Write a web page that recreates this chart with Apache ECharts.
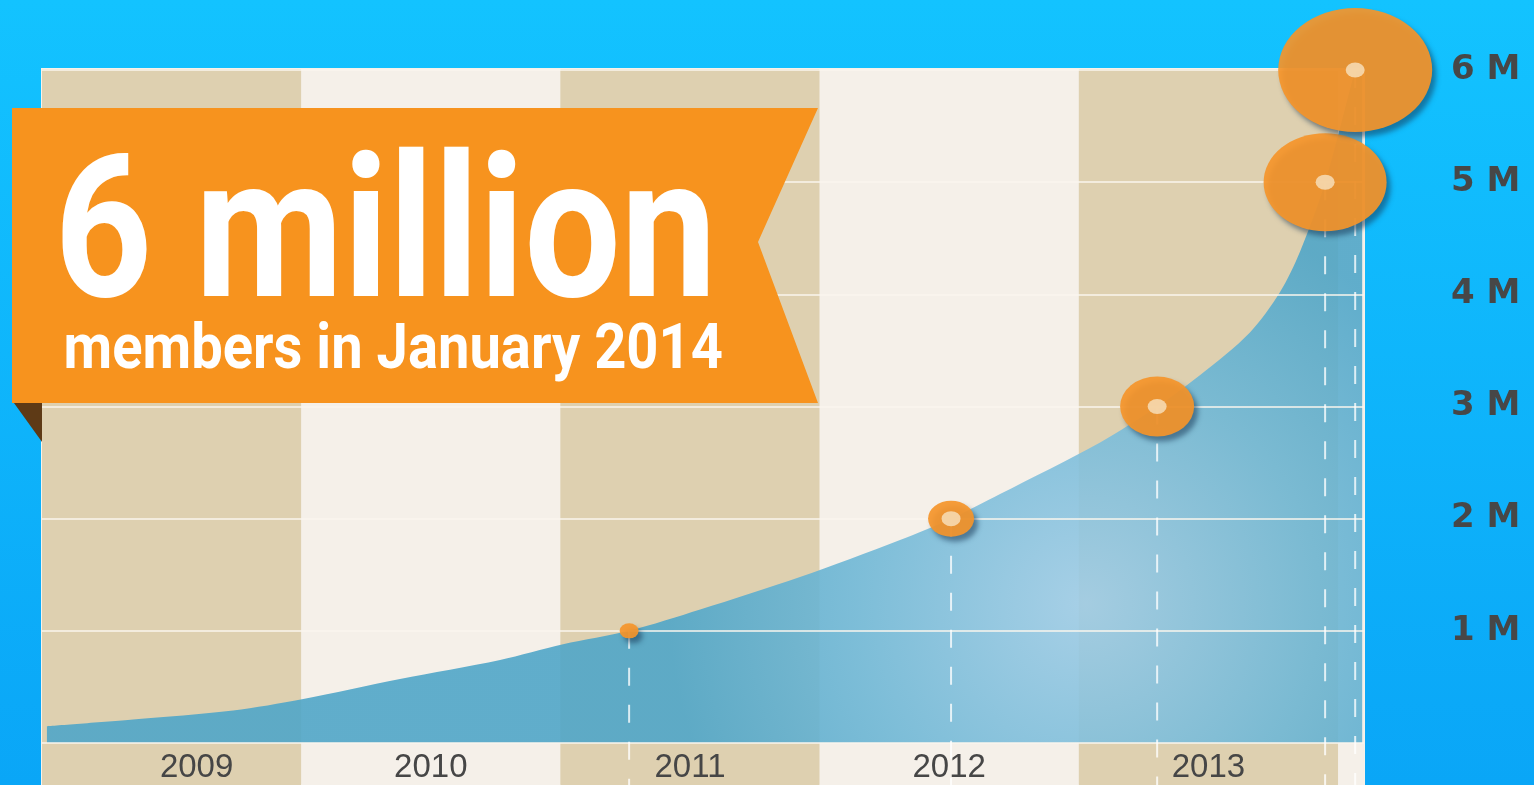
<!DOCTYPE html>
<html>
<head>
<meta charset="utf-8">
<script src="https://cdn.jsdelivr.net/npm/echarts@6/dist/echarts.min.js"></script>
<style>
html,body{margin:0;padding:0;width:1534px;height:785px;overflow:hidden;background:#0fb5fb}
#c{width:1534px;height:785px}
</style>
</head>
<body>
<div id="c"></div>
<script>
// ---------------- data ----------------
const yearLabels = ['2009', '2010', '2011', '2012', '2013'];
const valueTicks = [1, 2, 3, 4, 5, 6];           // millions, right axis labels "n M"
const curveYears = [2009.019, 2009.351, 2009.737, 2010.003, 2010.381, 2010.767, 2011.010,
  2011.265, 2011.539, 2011.924, 2012.310, 2012.507, 2012.696, 2013.082, 2013.302,
  2013.468, 2013.660, 2013.776, 2013.853, 2013.950, 2014.066, 2014.093];
const curveValues = [0.15, 0.21, 0.29, 0.39, 0.57, 0.74, 0.88,
  1.00, 1.19, 1.48, 1.81, 2.00, 2.22, 2.68, 3.00,
  3.28, 3.66, 4.02, 4.38, 5.00, 6.00, 6.20];
const milestoneYears = [2011.265, 2012.507, 2013.302, 2013.950, 2014.066];
const milestoneValues = [1, 2, 3, 5, 6];
const titleText = '6 million';
const subtitleText = 'members in January 2014';

// ---------------- style ----------------
const markerSizes = [[19, 15], [46, 36], [74, 60], [123, 98], [154, 124]];
const innerDotSize = [19, 15];
const orange = '#f5952a';

const G = { left: 42, width: 1322 };     // plot horizontal extent
const bandTop = 69, dataTop = 70, dataBottom = 743, H = 785;
const perUnit = (dataBottom - dataTop) / 6;
const bottomValue = -(H - dataBottom) / perUnit;

function fitText(text, font, box) {
  const ctx = document.createElement('canvas').getContext('2d');
  ctx.font = font;
  ctx.textBaseline = 'middle';
  const m = ctx.measureText(text);
  const inkW = m.actualBoundingBoxLeft + m.actualBoundingBoxRight;
  const inkH = m.actualBoundingBoxAscent + m.actualBoundingBoxDescent;
  return {
    type: 'text', z: 102, silent: true,
    x: box.left, y: box.top,
    scaleX: (box.right - box.left) / inkW,
    scaleY: (box.bottom - box.top) / inkH,
    style: {
      text: text, font: font, fill: '#ffffff',
      x: m.actualBoundingBoxLeft, y: m.actualBoundingBoxAscent,
      align: 'left', verticalAlign: 'middle',
      textAlign: 'left', textVerticalAlign: 'middle'
    }
  };
}

function build() {
  const chart = echarts.init(document.getElementById('c'), null, { renderer: 'canvas' });

  const dashSeries = milestoneYears.map((x, i) => ({
    type: 'line', xAxisIndex: 1, yAxisIndex: 1, clip: false, silent: true,
    symbol: 'none', z: 3, animation: false,
    data: [[x, milestoneValues[i]], [x, bottomValue]],
    lineStyle: { color: 'rgba(255,255,255,0.78)', width: 2, type: [18, 19] }
  }));

  const option = {
    animation: false,
    backgroundColor: new echarts.graphic.LinearGradient(0, 0, 0, 1, [
      { offset: 0, color: '#13c3ff' }, { offset: 1, color: '#0aa6f7' }
    ]),
    grid: [
      { left: G.left, width: G.width, top: bandTop, height: H - bandTop,
        show: true, borderColor: '#f7f2ea', borderWidth: 2, backgroundColor: '#ebe3d3' },
      { left: G.left, width: G.width, top: dataTop, height: dataBottom - dataTop },
      { left: G.left, width: 1296, top: bandTop, height: dataBottom - bandTop }
    ],
    xAxis: [
      { gridIndex: 0, type: 'value', min: 2009, max: 2014.1, interval: 1,
        axisLine: { show: false }, axisTick: { show: false }, axisLabel: { show: false },
        splitLine: { show: false },
        splitArea: { show: true, areaStyle: { color: ['#ded0b0', '#f5f0e9'] } } },
      { gridIndex: 1, type: 'value', min: 2009, max: 2014.1, show: false },
      { gridIndex: 2, type: 'category', data: yearLabels.map((y, i) => i === 0 ?
          { value: y, textStyle: { padding: [0, 0, 0, 50] } } : y),
        boundaryGap: true,
        axisLine: { show: false }, axisTick: { show: false }, splitLine: { show: false },
        axisLabel: { margin: 8, fontFamily: 'Liberation Sans, Arial, sans-serif', fontSize: 33,
          color: '#464646' } }
    ],
    yAxis: [
      { gridIndex: 0, type: 'value', show: false },
      { gridIndex: 1, type: 'value', min: 0, max: valueTicks[valueTicks.length - 1], interval: 1,
        position: 'right', z: 3,
        axisLine: { show: false }, axisTick: { show: false },
        splitLine: { show: true, lineStyle: { color: 'rgba(250,246,238,0.75)', width: 2 } },
        axisLabel: { margin: 87, align: 'left', verticalAlign: 'middle', fontFamily: 'DejaVu Sans, sans-serif',
          fontWeight: 'bold', fontSize: 34, color: '#474747',
          formatter: v => valueTicks.indexOf(v) >= 0 ? v + ' M' : '' } },
      { gridIndex: 2, type: 'value', show: false }
    ],
    series: [
      { type: 'line', xAxisIndex: 1, yAxisIndex: 1, silent: true, z: 2,
        data: curveYears.map((x, i) => [x, curveValues[i]]),
        smooth: 0.3, showSymbol: false, symbol: 'none',
        lineStyle: { width: 0 },
        areaStyle: {
          opacity: 1,
          color: new echarts.graphic.RadialGradient(0.79, 0.8, 0.6, [
            { offset: 0, color: 'rgba(158,204,230,0.9)' },
            { offset: 0.55, color: 'rgba(112,184,214,0.9)' },
            { offset: 1, color: 'rgba(80,166,200,0.9)' }
          ])
        } },
      ...dashSeries,
      { type: 'scatter', xAxisIndex: 1, yAxisIndex: 1, silent: true, z: 5, clip: false,
        data: milestoneYears.map((x, i) => ({ value: [x, milestoneValues[i]], symbolSize: markerSizes[i] })),
        symbol: 'circle',
        itemStyle: { color: orange, opacity: 0.92, shadowBlur: 5, shadowOffsetX: 4, shadowOffsetY: 5,
          shadowColor: 'rgba(20,50,80,0.55)' } },
      { type: 'scatter', xAxisIndex: 1, yAxisIndex: 1, silent: true, z: 6, clip: false,
        data: milestoneYears.slice(1).map((x, i) => [x, milestoneValues[i + 1]]),
        symbol: 'circle', symbolSize: innerDotSize,
        itemStyle: { color: '#f8e2c0' } }
    ],
    graphic: [
      { type: 'polygon', z: 100, silent: true,
        shape: { points: [[12, 108], [818, 108], [758, 242], [818, 403], [12, 403]] },
        style: { fill: '#f7931e' } },
      { type: 'polygon', z: 100, silent: true,
        shape: { points: [[14, 403], [42, 403], [42, 442]] },
        style: { fill: '#5e3a16' } },
      fitText(titleText, 'bold 200px Roboto', { left: 62, right: 708, top: 146, bottom: 298 }),
      fitText(subtitleText, 'bold 70px Roboto', { left: 66, right: 722, top: 321, bottom: 382 })
    ]
  };
  chart.setOption(option);
}

if (document.fonts && document.fonts.load) {
  Promise.all([document.fonts.load('bold 200px Roboto'), document.fonts.load('bold 34px "DejaVu Sans"')])
    .then(build, build);
} else { build(); }
</script>
</body>
</html>
